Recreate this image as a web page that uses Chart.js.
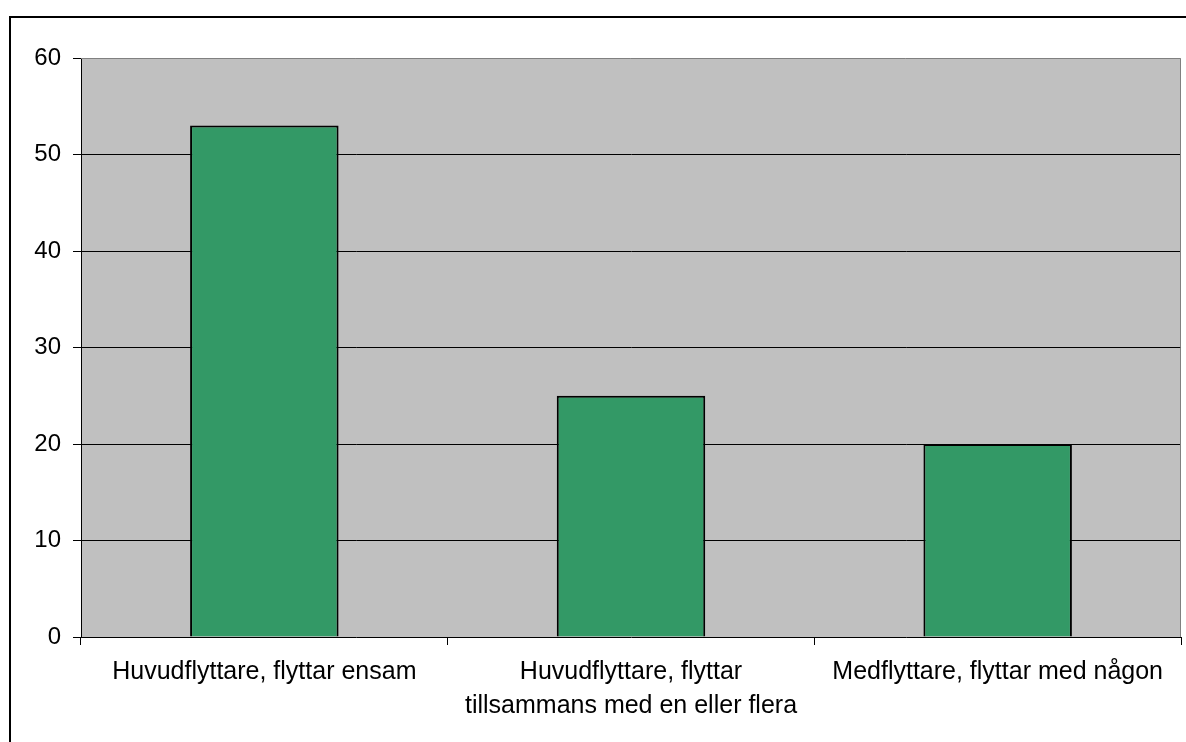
<!DOCTYPE html>
<html>
<head>
<meta charset="utf-8">
<script src="https://cdn.jsdelivr.net/npm/chart.js@4"></script>
<style>
  body { margin: 0; background: #fff; }
</style>
</head>
<body>
<canvas id="myChart" width="1186" height="742"></canvas>
<script>
const categories = [
  'Huvudflyttare, flyttar ensam',
  ['Huvudflyttare, flyttar', 'tillsammans med en eller flera'],
  'Medflyttare, flyttar med någon'
];
const values = [53, 25, 20];
const yTicks = [0, 10, 20, 30, 40, 50, 60];

const ctx = document.getElementById('myChart');

// grey plot background, grey top/right edge, outer frame
const framePlugin = {
  id: 'frame',
  beforeDraw(chart) {
    const c = chart.ctx;
    const a = chart.chartArea;
    c.save();
    c.fillStyle = '#fff';
    c.fillRect(0, 0, chart.width, chart.height);
    c.fillStyle = '#C0C0C0';
    c.fillRect(a.left, a.top, a.right - a.left, a.bottom - a.top);
    c.restore();
  },
  afterDraw(chart) {
    const c = chart.ctx;
    const a = chart.chartArea;
    c.save();
    c.strokeStyle = '#808080';
    c.lineWidth = 1;
    c.beginPath();
    c.moveTo(a.left, a.top + 0.5);
    c.lineTo(a.right - 0.5, a.top + 0.5);
    c.lineTo(a.right - 0.5, a.bottom);
    c.stroke();
    c.strokeStyle = '#000';
    c.lineWidth = 2;
    c.strokeRect(10, 17, 1200, 760);
    c.restore();
  }
};

new Chart(ctx, {
  type: 'bar',
  data: {
    labels: categories,
    datasets: [{
      data: values,
      backgroundColor: '#339966',
      borderColor: '#000',
      borderWidth: 2,
      barPercentage: 0.405,
      categoryPercentage: 1
    }]
  },
  options: {
    responsive: false,
    animation: false,
    layout: { padding: { left: 0, top: 58, right: 5, bottom: 0 } },
    plugins: {
      legend: { display: false },
      tooltip: { enabled: false }
    },
    scales: {
      x: {
        afterFit: s => { s.height = 105; },
        grid: {
          offset: true,
          drawOnChartArea: false,
          tickLength: 8,
          tickColor: '#000'
        },
        border: { color: '#000', width: 1 },
        ticks: {
          color: '#000',
          padding: 10,
          maxRotation: 0,
          autoSkip: false,
          font: { family: 'Liberation Sans, Arial, sans-serif', size: 25, lineHeight: 1.36 }
        }
      },
      y: {
        min: 0,
        max: 60,
        afterFit: s => { s.width = 81; },
        afterBuildTicks: s => { s.ticks = yTicks.map(v => ({ value: v })); },
        grid: {
          color: c => (c.tick && (c.tick.value === 60 || c.tick.value === 0)) ? 'rgba(0,0,0,0)' : '#000',
          tickLength: 8,
          tickColor: '#000'
        },
        border: { color: '#000', width: 1 },
        ticks: {
          color: '#000',
          padding: 12,
          font: { family: 'Liberation Sans, Arial, sans-serif', size: 24 }
        }
      }
    }
  },
  plugins: [framePlugin]
});
</script>
</body>
</html>
